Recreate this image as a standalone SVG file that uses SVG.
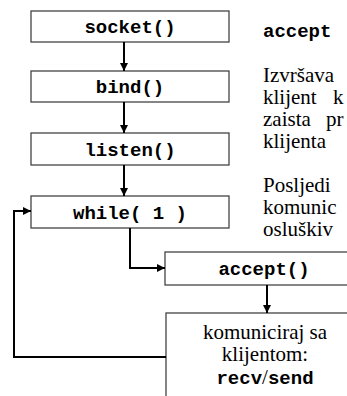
<svg xmlns="http://www.w3.org/2000/svg" width="347" height="396" viewBox="0 0 347 396">
<style>
.box{fill:#fff;stroke:#444;stroke-width:1.3}
.mono{font-family:"Liberation Mono",monospace;font-weight:bold;font-size:19px;fill:#000}
.serif{font-family:"Liberation Serif",serif;font-size:21px;fill:#000}
.con{fill:none;stroke:#000;stroke-width:2}
</style>
<defs>
<marker id="ah" viewBox="0 0 10 10" refX="10" refY="5" markerWidth="4" markerHeight="4" orient="auto" markerUnits="strokeWidth">
<path d="M0,0 L10,5 L0,10 z" fill="#000"/>
</marker>
</defs>
<rect width="347" height="396" fill="#fff"/>
<g id="socket"><rect class="box" x="31" y="11" width="198" height="31"/><text class="mono" x="130" y="33" text-anchor="middle">socket()</text></g>
<g id="bind"><rect class="box" x="31" y="71" width="198" height="31"/><text class="mono" x="130" y="93" text-anchor="middle">bind()</text></g>
<g id="listen"><rect class="box" x="31" y="133" width="198" height="32"/><text class="mono" x="130" y="156" text-anchor="middle">listen()</text></g>
<g id="while"><rect class="box" x="31" y="196" width="198" height="32"/><text class="mono" x="130" y="219" text-anchor="middle" xml:space="preserve">while( 1 )</text></g>
<g id="accept"><rect class="box" x="165" y="252" width="200" height="33"/><text class="mono" x="264" y="275" text-anchor="middle">accept()</text></g>
<g id="komuniciraj"><rect class="box" x="166" y="313" width="200" height="100"/>
<text class="serif" x="265" y="339" text-anchor="middle">komuniciraj sa</text>
<text class="serif" x="265" y="361" text-anchor="middle">klijentom:</text>
<text class="mono" x="265" y="384" text-anchor="middle">recv<tspan style="font-family:'Liberation Serif',serif;font-weight:normal;font-size:21px">/</tspan>send</text></g>
<g id="connectors">
<line class="con" x1="124" y1="42" x2="124" y2="71" marker-end="url(#ah)"/>
<line class="con" x1="124" y1="102" x2="124" y2="133" marker-end="url(#ah)"/>
<line class="con" x1="124" y1="165" x2="124" y2="196" marker-end="url(#ah)"/>
<polyline class="con" points="130,228 130,268 165,268" marker-end="url(#ah)"/>
<line class="con" x1="267" y1="285" x2="267" y2="313" marker-end="url(#ah)"/>
<polyline class="con" points="166,357 14,357 14,211 31,211" marker-end="url(#ah)"/>
</g>
<g id="notes">
<text class="mono" x="263" y="37">accept</text>
<text class="serif" x="263" y="82">Izvršava</text>
<text class="serif" x="263" y="104">klijent<tspan x="333">k</tspan></text>
<text class="serif" x="263" y="126">zaista<tspan x="326">pr</tspan></text>
<text class="serif" x="263" y="148">klijenta</text>
<text class="serif" x="263" y="192">Posljedi</text>
<text class="serif" x="263" y="214">komunic</text>
<text class="serif" x="263" y="236">osluškiv</text>
</g>
</svg>
